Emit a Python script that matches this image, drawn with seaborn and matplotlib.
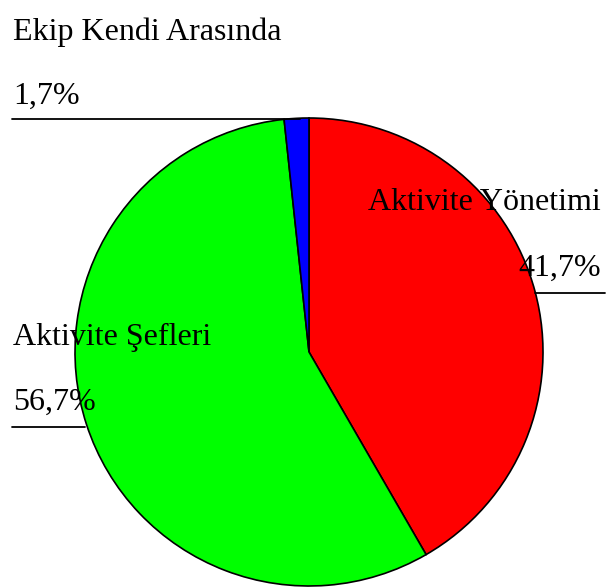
import matplotlib.pyplot as plt
import seaborn as sns

labels = ["Aktivite Yönetimi", "Aktivite Şefleri", "Ekip Kendi Arasında"]
values = [41.7, 56.7, 1.7]
pct_text = ["41,7%", "56,7%", "1,7%"]
colors = ["#FF0000", "#00FF00", "#0000FF"]

sns.set_theme(style="white")
plt.rcParams["font.family"] = ["Liberation Serif", "DejaVu Serif"]

W, H = 607, 587
fig = plt.figure(figsize=(W / 100, H / 100), dpi=100)
ax = fig.add_axes([0, 0, 1, 1])
ax.set_xlim(0, W)
ax.set_ylim(0, H)
ax.set_aspect("equal")
ax.axis("off")

# pie in pixel coordinates (y measured from bottom)
cx, cy, r = 309, H - 352, 234
ax.pie(values, colors=colors, startangle=90, counterclock=False,
       center=(cx, cy), radius=r, frame=True,
       wedgeprops=dict(edgecolor="black", linewidth=1.2))
ax.set_xlim(0, W)
ax.set_ylim(0, H)
ax.axis("off")

fs = 23
def y(v):
    return H - v

# Aktivite Yönetimi
ax.text(601, y(210), labels[0], ha="right", va="baseline", fontsize=fs, color="black")
ax.text(601, y(276), pct_text[0], ha="right", va="baseline", fontsize=fs, color="black")
ax.plot([535, 605], [y(293), y(293)], color="black", lw=1.3)

# Aktivite Şefleri
ax.text(13, y(345), labels[1], ha="left", va="baseline", fontsize=fs, color="black")
ax.text(13, y(410), pct_text[1], ha="left", va="baseline", fontsize=fs, color="black")
ax.plot([12, 85], [y(427), y(427)], color="black", lw=1.3)

# Ekip Kendi Arasında
ax.text(13, y(40), labels[2], ha="left", va="baseline", fontsize=fs, color="black")
ax.text(13, y(104), pct_text[2], ha="left", va="baseline", fontsize=fs, color="black")
ax.plot([12, 300], [y(119), y(119)], color="black", lw=1.3)

fig.savefig("out.png", dpi=100)
